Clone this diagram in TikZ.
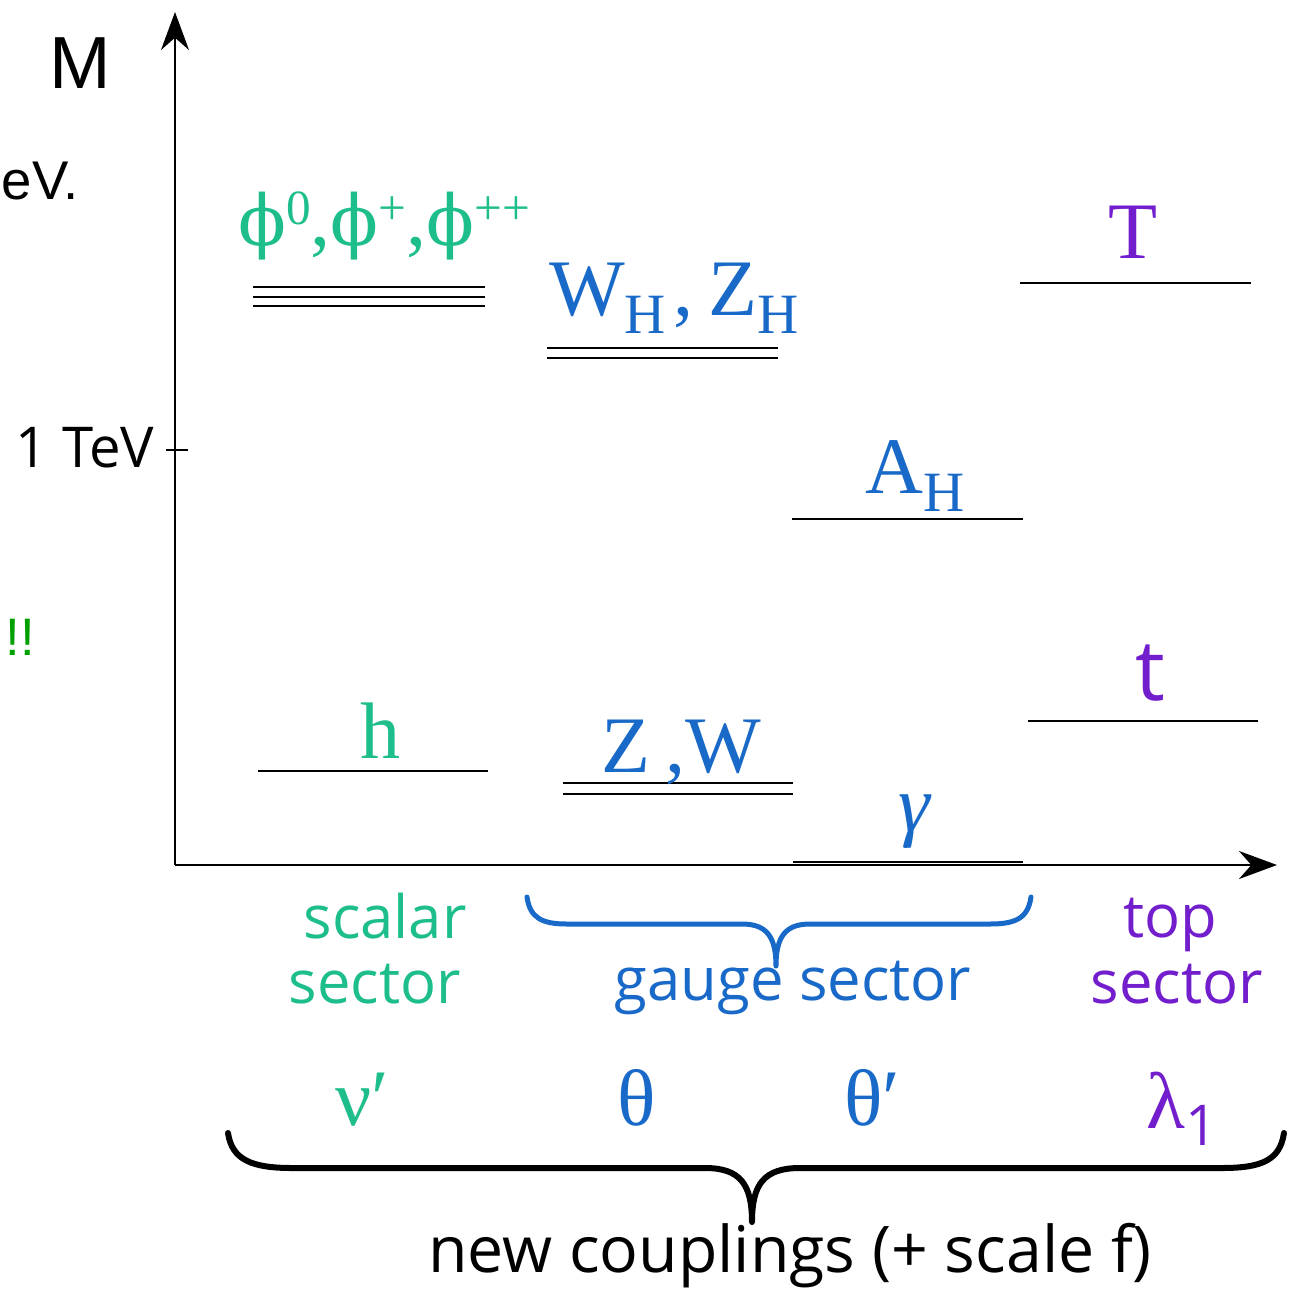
\documentclass[tikz,border=0pt]{standalone}
\usepackage{fontspec}
\setmainfont{Liberation Serif}
\newfontfamily\handfont{Open Sans}
\newfontfamily\arialfont{Liberation Sans}
\newfontfamily\dvserif{DejaVu Serif}
\usetikzlibrary{arrows.meta}
\definecolor{scal}{RGB}{30,190,140}
\definecolor{gauge}{RGB}{25,105,200}
\definecolor{topc}{RGB}{115,30,205}
\definecolor{exclam}{RGB}{0,160,0}
\newcommand{\mysub}[1]{\raisebox{-0.18cm}{\fontsize{16.2}{16}\selectfont #1}}
\newcommand{\mysup}[1]{\raisebox{0.20cm}{\fontsize{14}{14}\selectfont #1}}
\newcommand{\myphi}{{\dvserif\fontsize{20}{24}\selectfont ϕ}}
\begin{document}
\begin{tikzpicture}[x=0.01cm,y=-0.01cm,
  level/.style={line width=0.02cm},
  axis/.style={line width=0.022cm,-{Stealth[length=0.38cm,width=0.28cm]}},
  serif/.style={font=\fontsize{22.8}{27}\selectfont, inner sep=0pt, anchor=base},
  handtxt/.style={font=\handfont\fontsize{17}{20}\selectfont, inner sep=0pt, anchor=base},
  bracepath/.style={line cap=round, line join=round}
  ]
\useasboundingbox (0,0) rectangle (1289,1299);
% axes
\coordinate (O) at (175,865);
\coordinate (ytip) at (175,12);
\coordinate (xtip) at (1277,865);
\draw[axis] (O) -- (ytip);
\draw[axis] (O) -- (xtip);
\coordinate (tickL) at (166,450);
\coordinate (tickR) at (188,450);
\draw[level] (tickL) -- (tickR);
% axis labels and left fragments
\node[anchor=base, font=\arialfont\fontsize{21}{24}\selectfont, inner sep=0pt] (M) at (80,88) {M};
\node[anchor=base west, font=\arialfont\fontsize{15.5}{18}\selectfont, inner sep=0pt] (ev) at (1,199) {eV.};
\node[anchor=base west, font=\arialfont\fontsize{15}{16}\selectfont, inner sep=0pt, text=exclam] (ex) at (5,655) {!!};
\node[handtxt, anchor=base east, font=\handfont\fontsize{16}{20}\selectfont] (tev) at (155,467) {1 TeV};
% scalar levels
\draw[level] (253,287) -- (485,287);
\draw[level] (253,297) -- (485,297);
\draw[level] (253,306) -- (485,306);
\node[serif, text=scal] (phi) at (384,245) {\myphi\mysup{0},\myphi\mysup{+},\myphi\mysup{++}};
\draw[level] (258,771) -- (488,771);
\node[serif, text=scal] (h) at (381,758) {h};
% gauge levels
\draw[level] (547,348) -- (778,348);
\draw[level] (547,358) -- (778,358);
\node[serif, text=gauge] (WZH) at (674,315) {W\mysub{H}\kern0.08cm,\kern0.15cm Z\mysub{H}};
\draw[level] (792,519) -- (1023,519);
\node[serif, text=gauge] (AH) at (915,493) {A\mysub{H}};
\draw[level] (563,783) -- (793,783);
\draw[level] (563,794) -- (793,794);
\node[serif, text=gauge] (ZW) at (681,772) {Z\kern0.15cm,W};
\draw[level] (793,862) -- (1023,862);
\node[serif, text=gauge] (gam) at (914,831) {\itshape γ};
% top levels
\draw[level] (1020,283) -- (1251,283);
\node[serif, text=topc] (T) at (1133,258) {T};
\draw[level] (1028,721) -- (1258,721);
\node[handtxt, text=topc, font=\handfont\fontsize{24}{28}\selectfont] (t) at (1150,700) {t};
% sector labels
\node[handtxt, text=scal] (sc1) at (385,938) {scalar};
\node[handtxt, text=scal] (sc2) at (375,1003) {sector};
\node[handtxt, text=gauge] (gs) at (793,1000) {gauge sector};
\node[handtxt, text=topc] (tp1) at (1170,937) {top};
\node[handtxt, text=topc] (tp2) at (1177,1003) {sector};
% gauge brace
\draw[gauge, line width=0.05cm, bracepath]
  (527,897) .. controls (530,918) and (542,924) .. (567,924) -- (742,924)
  .. controls (766,924) and (776,936) .. (776,966)
  .. controls (776,936) and (786,924) .. (810,924) -- (990,924)
  .. controls (1016,924) and (1028,918) .. (1031,897);
% couplings
\node[serif, text=scal] (nu) at (362,1125) {ν′};
\node[serif, text=gauge] (th) at (637,1125) {θ};
\node[serif, text=gauge] (thp) at (872,1125) {θ′};
\node[serif, text=topc] (lam) at (1182,1128) {λ\raisebox{-0.17cm}{\handfont\fontsize{16}{16}\selectfont 1}};
% big brace
\draw[black, line width=0.06cm, bracepath]
  (228,1133) .. controls (232,1160) and (252,1168) .. (292,1168) -- (705,1168)
  .. controls (740,1168) and (752,1184) .. (752,1222)
  .. controls (752,1184) and (764,1168) .. (800,1168) -- (1222,1168)
  .. controls (1262,1168) and (1280,1160) .. (1284,1133);
\node[handtxt, font=\handfont\fontsize{18.3}{22}\selectfont] (nc) at (790,1272) {new couplings (+ scale f)};
\end{tikzpicture}
\end{document}
